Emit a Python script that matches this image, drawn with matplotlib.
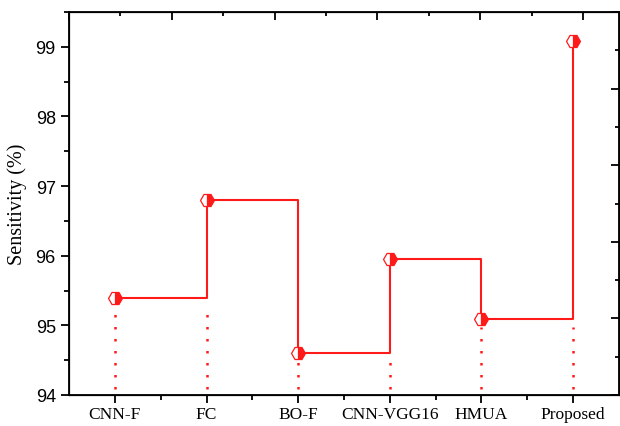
import numpy as np
import matplotlib
matplotlib.use("Agg")
import matplotlib.pyplot as plt
from matplotlib.ticker import MultipleLocator, NullFormatter

# ─── DATA ───────────────────────────────────────────────────────────────────
methods     = ["CNN-F", "FC", "BO-F", "CNN-VGG16", "HMUA", "Proposed"]
sensitivity = [95.39, 96.80, 94.60, 95.96, 95.09, 99.09]

RED = "#ff1a1a"

fig = plt.figure(figsize=(6.2, 4.27), dpi=100)
ax = fig.add_axes([69 / 620, 31 / 427, 550 / 620, 383 / 427])

x = np.arange(len(methods))

# step line (value held until next category)
ax.step(x, sensitivity, where="post", color=RED, lw=1.5, zorder=3)
ax.plot(x, sensitivity, ls="none", marker="H", ms=10, fillstyle="right",
        color=RED, markerfacecoloralt="white", mec=RED, mew=0.9, zorder=4)

# dotted drop lines to the axis
for i, v in enumerate(sensitivity):
    low = v if i == 0 else min(v, sensitivity[i - 1])
    ax.plot([x[i], x[i]], [94.08, low - 0.12], color=RED, lw=1.8,
            ls=(0, (1, 3.8)), zorder=2)

ax.set_xlim(-0.5, 5.5)
ax.set_ylim(94, 99.5)
ax.set_xticks(x)
ax.set_xticklabels(methods, family="Liberation Serif", fontsize=12.5)
ax.set_xticks(x[:-1] + 0.5, minor=True)
ax.yaxis.set_major_locator(MultipleLocator(1))
ax.yaxis.set_minor_locator(MultipleLocator(0.5))
for lab in ax.get_yticklabels():
    lab.set_family("Liberation Sans")
    lab.set_fontsize(13)
ax.tick_params(which="major", direction="out", length=6, width=1.3)
ax.tick_params(which="minor", direction="out", length=3.5, width=1.3)
ax.tick_params(axis="x", pad=2)
ax.set_ylabel("Sensitivity (%)", family="Liberation Serif", fontsize=14.5,
              labelpad=6)
for s in ax.spines.values():
    s.set_linewidth(1.3)

# top and right axes with their own tick marks, no labels
top = ax.twiny()
top.set_xlim(0, 5.35)
top.xaxis.set_major_locator(MultipleLocator(1))
top.xaxis.set_minor_locator(MultipleLocator(0.5))
top.xaxis.set_major_formatter(NullFormatter())
top.tick_params(which="major", direction="in", length=6, width=1.3)
top.tick_params(which="minor", direction="in", length=3, width=1.3)

right = ax.twinx()
right.set_ylim(0, 1)
right.yaxis.set_major_locator(MultipleLocator(0.2))
right.yaxis.set_minor_locator(MultipleLocator(0.1))
right.yaxis.set_major_formatter(NullFormatter())
right.tick_params(which="major", direction="in", length=6, width=1.3)
right.tick_params(which="minor", direction="in", length=3, width=1.3)

fig.savefig("out.png", dpi=100)
